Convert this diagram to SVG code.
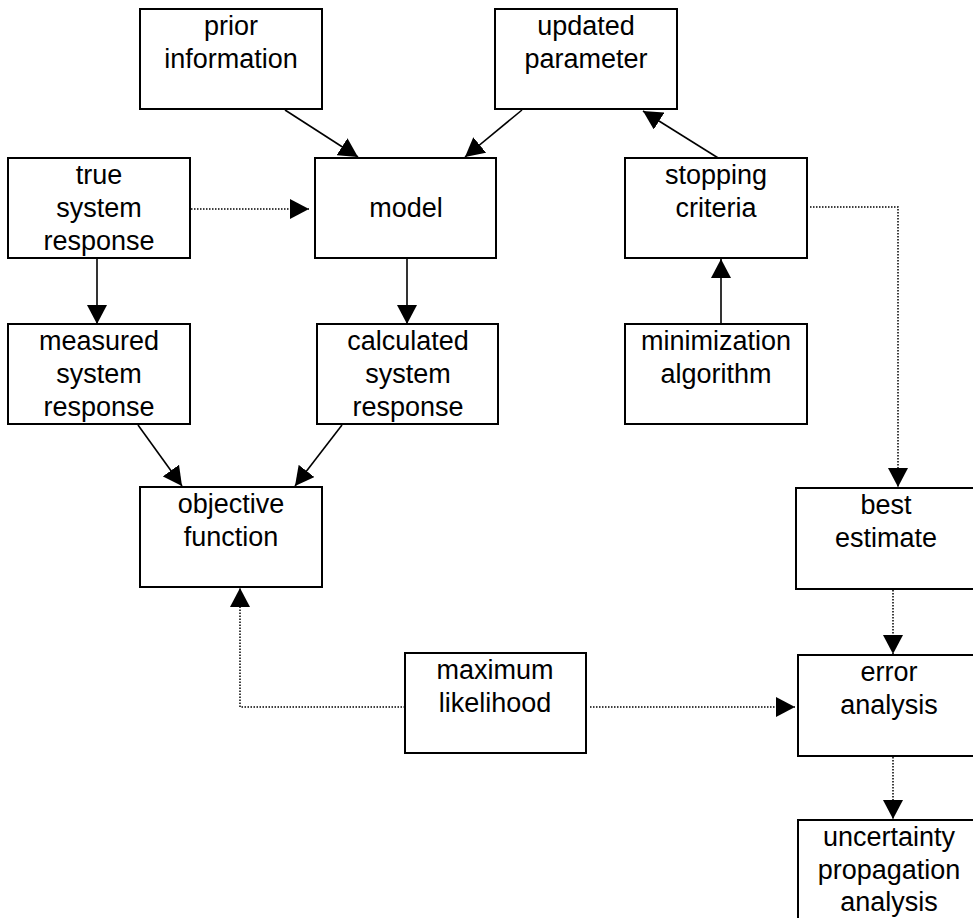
<svg xmlns="http://www.w3.org/2000/svg" width="973" height="918" viewBox="0 0 973 918">
<style>
rect.box{fill:#fff;stroke:#000;stroke-width:2}
text{font-family:"Liberation Sans",Arial,sans-serif;font-size:27px;fill:#000;text-anchor:middle}
.solid{stroke:#000;stroke-width:1.6;fill:none}
.dot{stroke:#000;stroke-width:1.5;fill:none;stroke-dasharray:1.5 1.5}
</style>
<defs>
<marker id="ah" markerUnits="userSpaceOnUse" markerWidth="20" markerHeight="20" refX="19" refY="10" orient="auto" viewBox="0 0 20 20">
<path d="M0,0 L19,10 L0,20 z" fill="#000"/>
</marker>
</defs>
<rect width="973" height="918" fill="#fff"/>
<g id="connectors">
<line class="solid" x1="285" y1="110" x2="358" y2="157" marker-end="url(#ah)"/>
<line class="solid" x1="522" y1="110" x2="465" y2="157" marker-end="url(#ah)"/>
<line class="solid" x1="723" y1="161" x2="643" y2="111" marker-end="url(#ah)"/>
<line class="dot" x1="191" y1="209" x2="309" y2="209" marker-end="url(#ah)"/>
<line class="solid" x1="97" y1="258" x2="97" y2="324" marker-end="url(#ah)"/>
<line class="solid" x1="407" y1="258" x2="407" y2="324" marker-end="url(#ah)"/>
<line class="solid" x1="138" y1="425" x2="182" y2="486" marker-end="url(#ah)"/>
<line class="solid" x1="342" y1="425" x2="295" y2="486" marker-end="url(#ah)"/>
<line class="solid" x1="721" y1="324" x2="721" y2="259" marker-end="url(#ah)"/>
<polyline class="dot" points="810,207 898,207 898,487" marker-end="url(#ah)"/>
<line class="dot" x1="893" y1="590" x2="893" y2="654" marker-end="url(#ah)"/>
<line class="dot" x1="893" y1="757" x2="893" y2="819" marker-end="url(#ah)"/>
<polyline class="dot" points="405,707 240,707 240,588" marker-end="url(#ah)"/>
<line class="dot" x1="590" y1="707" x2="795" y2="707" marker-end="url(#ah)"/>
</g>
<g id="prior"><rect class="box" x="140" y="9" width="182" height="100"/><text x="231" y="35">prior</text><text x="231" y="68">information</text></g>
<g id="updated"><rect class="box" x="495" y="9" width="182" height="100"/><text x="586" y="35">updated</text><text x="586" y="68">parameter</text></g>
<g id="truesys"><rect class="box" x="8" y="158" width="182" height="100"/><text x="99" y="184">true</text><text x="99" y="217">system</text><text x="99" y="250">response</text></g>
<g id="model"><rect class="box" x="315" y="158" width="181" height="100"/><text x="406" y="217">model</text></g>
<g id="stopping"><rect class="box" x="625" y="158" width="182" height="100"/><text x="716" y="184">stopping</text><text x="716" y="217">criteria</text></g>
<g id="measured"><rect class="box" x="8" y="324" width="182" height="100"/><text x="99" y="350">measured</text><text x="99" y="383">system</text><text x="99" y="416">response</text></g>
<g id="calculated"><rect class="box" x="317" y="324" width="181" height="100"/><text x="408" y="350">calculated</text><text x="408" y="383">system</text><text x="408" y="416">response</text></g>
<g id="minimization"><rect class="box" x="625" y="324" width="182" height="100"/><text x="716" y="350">minimization</text><text x="716" y="383">algorithm</text></g>
<g id="objective"><rect class="box" x="140" y="487" width="182" height="100"/><text x="231" y="513">objective</text><text x="231" y="546">function</text></g>
<g id="best"><rect class="box" x="796" y="488" width="182" height="101"/><text x="886" y="514">best</text><text x="886" y="547">estimate</text></g>
<g id="maxlik"><rect class="box" x="405" y="653" width="181" height="100"/><text x="495" y="679">maximum</text><text x="495" y="712">likelihood</text></g>
<g id="error"><rect class="box" x="798" y="655" width="182" height="101"/><text x="889" y="681">error</text><text x="889" y="714">analysis</text></g>
<g id="uncertainty"><rect class="box" x="798" y="820" width="182" height="110"/><text x="889" y="846">uncertainty</text><text x="889" y="879">propagation</text><text x="889" y="911">analysis</text></g>
</svg>
